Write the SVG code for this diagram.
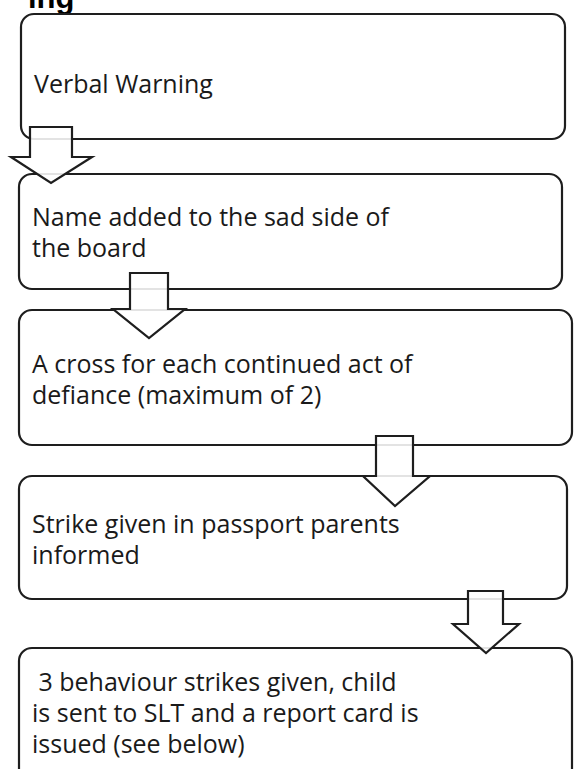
<svg xmlns="http://www.w3.org/2000/svg" width="574" height="769" viewBox="0 0 574 769">
<style>
.box{fill:#fff;stroke:#1e1e1e;stroke-width:2.2}
.arr{fill:#fff;fill-opacity:0.88;stroke:#1e1e1e;stroke-width:2.2;stroke-linejoin:miter}
.t{font-family:"Open Sans","Liberation Sans",sans-serif;font-size:25px;fill:#1a1a1a}
.h{font-family:"Liberation Sans",Arial,sans-serif;font-size:31px;font-weight:bold;fill:#000}
</style>
<rect width="574" height="769" fill="#fff"/>
<text class="h" x="28" y="8">ing</text>
<g id="n1"><rect class="box" x="21" y="14" width="544" height="125" rx="13"/><text class="t" x="34" y="93">Verbal Warning</text></g>
<g id="n2"><rect class="box" x="19" y="174" width="543" height="115" rx="13"/><text class="t" x="32" y="226">Name added to the sad side of</text><text class="t" x="32" y="257">the board</text></g>
<g id="n3"><rect class="box" x="19" y="310" width="553" height="135" rx="13"/><text class="t" x="32" y="373">A cross for each continued act of</text><text class="t" x="32" y="404">defiance (maximum of 2)</text></g>
<g id="n4"><rect class="box" x="19" y="476" width="548" height="123" rx="13"/><text class="t" x="32" y="533">Strike given in passport parents</text><text class="t" x="32" y="564">informed</text></g>
<g id="n5"><rect class="box" x="19" y="648" width="553" height="150" rx="13"/><text class="t" x="32" y="691" xml:space="preserve"> 3 behaviour strikes given, child</text><text class="t" x="32" y="722">is sent to SLT and a report card is</text><text class="t" x="32" y="753">issued (see below)</text></g>
<g id="connectors">
<path class="arr" d="M30,127 H72 V157 H92 L51,183 L11,157 H30 Z"/>
<path class="arr" d="M130,273 H168 V309 H185 L149,338 L113,309 H130 Z"/>
<path class="arr" d="M376,436 H413 V476 H430 L395,506 L363,476 H376 Z"/>
<path class="arr" d="M468,591 H503 V624 H519 L486,653 L453,624 H468 Z"/>
</g>
</svg>
